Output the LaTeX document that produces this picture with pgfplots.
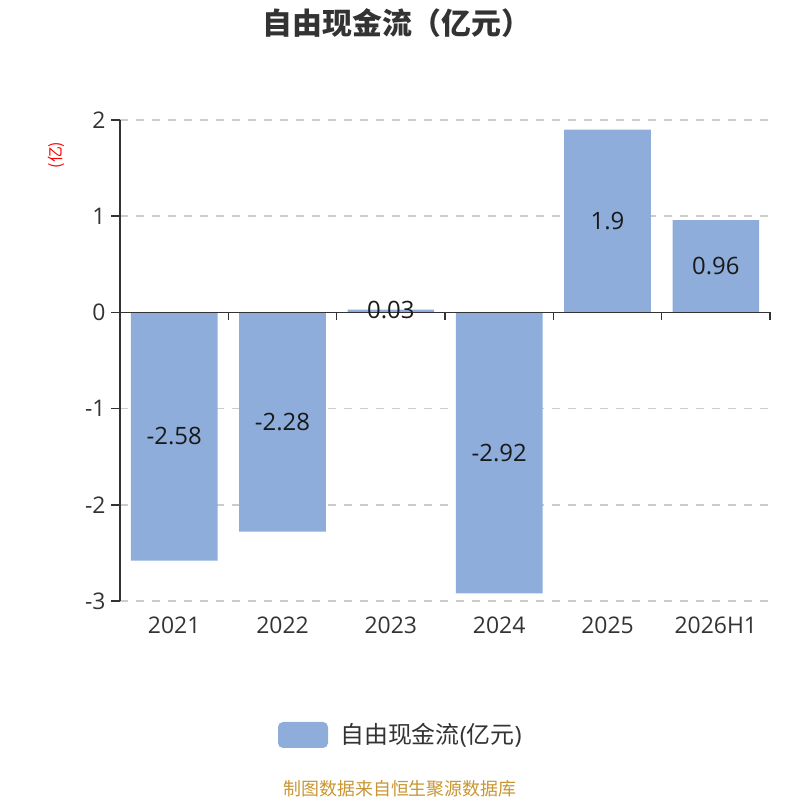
\documentclass[border=0pt]{standalone}
\usepackage{pgfplots}
\pgfplotsset{compat=1.18}
\usepackage{fontspec}
\setmainfont{Open Sans}
\newfontfamily\cjk{Noto Sans CJK SC}
\definecolor{barc}{RGB}{142,173,219}
\definecolor{txt}{RGB}{51,51,51}
\definecolor{gridc}{RGB}{204,204,204}
\definecolor{foot}{RGB}{200,150,50}
\begin{document}
\begin{tikzpicture}[x=1bp,y=1bp]
\path[use as bounding box] (0,0) rectangle (800,800);
\node[font=\cjk\bfseries\fontsize{30}{34}\selectfont, text=txt] at (397,777) {自由现金流（亿元）};
\node[font=\cjk\fontsize{16}{18}\selectfont, text=red, rotate=90] at (56,645) {(亿)};
\begin{axis}[at={(120bp,199bp)}, anchor=south west, scale only axis,
  width=650bp, height=481bp,
  xmin=-0.5, xmax=5.5, ymin=-3, ymax=2,
  axis x line*=bottom, axis y line*=left,
  x axis line style={draw=none},
  y axis line style={draw=txt, line width=1.6bp},
  xtick={0,1,2,3,4,5},
  xticklabels={2021,2022,2023,2024,2025,2026H1},
  major x tick style={draw=none},
  ytick={-3,-2,-1,0,1,2},
  major y tick style={draw=txt, line width=1.6bp},
  tick align=outside, major tick length=9bp,
  ymajorgrids, grid style={gridc, dash pattern=on 8bp off 8bp, line width=1.5bp},
  /pgf/number format/assume math mode=true,
  ticklabel style={font=\fontsize{23}{26}\selectfont, text=txt},
  xticklabel style={yshift=-3bp},
  yticklabel style={xshift=-2bp},
  clip=false,
]
\addplot[ybar, bar width=0.8, fill=barc, draw=none, bar shift=0] coordinates {
  (0,-2.58) (1,-2.28) (2,0.03) (3,-2.92) (4,1.9) (5,0.96)
};
\addplot[only marks, mark=none, point meta=explicit symbolic, nodes near coords,
  every node near coord/.append style={anchor=center, font=\fontsize{24}{28}\selectfont, text=black!90}]
  coordinates {
  (0,-1.29) [-2.58] (1,-1.14) [-2.28] (2,0.03) [0.03] (3,-1.46) [-2.92] (4,0.95) [1.9] (5,0.48) [0.96]
};
\draw[txt, line width=1.6bp] (axis cs:-0.5,0) -- (axis cs:5.5,0);
\pgfplotsinvokeforeach{-0.5,0.5,1.5,2.5,3.5,4.5,5.5}{
  \draw[txt, line width=1.6bp] (axis cs:#1,0) -- ([yshift=-8bp]axis cs:#1,0);
}
\end{axis}
\fill[barc, rounded corners=5bp] (278,52) rectangle (328,78);
\node[anchor=west, font=\fontsize{24}{28}\selectfont, text=txt, inner sep=0pt] at (340,65) {\cjk 自由现金流\normalfont(\cjk 亿元\normalfont)};
\node[font=\cjk\fontsize{18}{21}\selectfont, text=foot] at (400,11) {制图数据来自恒生聚源数据库};
\end{tikzpicture}
\end{document}
